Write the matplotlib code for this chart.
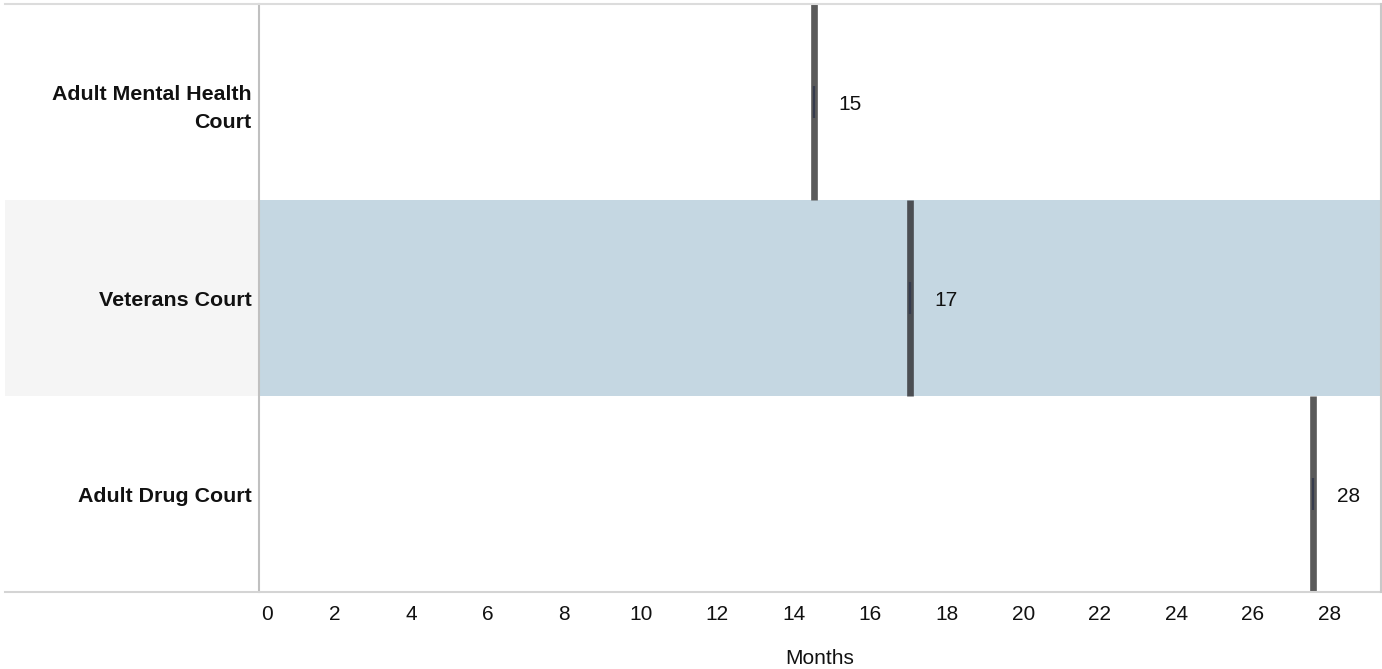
import matplotlib.pyplot as plt
from matplotlib.lines import Line2D
from matplotlib.patches import Rectangle
import matplotlib.transforms as mtrans

courts = ['Adult Mental Health\nCourt', 'Veterans Court', 'Adult Drug Court']
months = [14.54, 17.05, 27.59]
month_labels = ['15', '17', '28']
xticks = list(range(0, 29, 2))
highlight = 1  # Veterans Court row

W, H = 1382, 669
fig = plt.figure(figsize=(W / 100, H / 100), dpi=100)
plt.rcParams['font.family'] = ['Arial', 'Liberation Sans', 'DejaVu Sans']

# plot area in pixels
x0, x1, ytop, ybot = 258.5, 1380, 4, 592
ax = fig.add_axes([x0 / W, 1 - ybot / H, (x1 - x0) / W, (ybot - ytop) / H])
ax.set_xlim(0, 29.33)
ax.set_ylim(3, 0)

# highlighted row
ax.axhspan(highlight, highlight + 1, color='#c5d7e2', lw=0, zorder=0)
row_h = (ybot - ytop) / 3
fig.patches.append(Rectangle((5 / W, 1 - (ytop + row_h * (highlight + 1)) / H),
                             (x0 - 5) / W, row_h / H, transform=fig.transFigure,
                             color='#f5f5f5', lw=0, zorder=-1))

for i, (v, lab) in enumerate(zip(months, month_labels)):
    col = '#4b4e53' if i == highlight else '#5a5a5a'
    ax.vlines(v, i, i + 1, color=col, lw=4.8, zorder=3)
    ax.vlines(v, i + 0.5 - 0.082, i + 0.5 + 0.082, color='#353b4c', lw=1.6, zorder=4)
    ax.annotate(lab, (v, i + 0.5), xytext=(24, -2), textcoords='offset pixels',
                ha='left', va='center', fontsize=15, color='#111111')

ax.set_yticks([0.5, 1.5, 2.5])
ax.set_yticklabels(courts, fontsize=15.4, fontweight='bold', color='#111111', linespacing=1.6)
ax.set_xticks(xticks)
ax.set_xticklabels([str(t) for t in xticks], fontsize=15, color='#111111')
ax.tick_params(axis='both', length=0)
ax.tick_params(axis='y', pad=5)
ax.tick_params(axis='x', pad=9)
first = ax.get_xticklabels()[0]
first.set_horizontalalignment('left')
first.set_transform(first.get_transform() + mtrans.ScaledTranslation(3 / 100, 0, fig.dpi_scale_trans))
ax.set_xlabel('Months', fontsize=15, color='#111111', labelpad=18)

for s in ['top', 'bottom', 'right']:
    ax.spines[s].set_visible(False)
ax.spines['left'].set_color('#c0c0c0')
ax.spines['left'].set_linewidth(1.5)
ax.spines['left'].set_zorder(5)

# frame lines in figure space
fig.add_artist(Line2D([5 / W, 1], [1 - 3.5 / H] * 2, color='#dcdcdc', lw=1.5))
fig.add_artist(Line2D([5 / W, x1 / W], [1 - ybot / H] * 2, color='#d4d4d4', lw=1.5))
fig.add_artist(Line2D([1380.5 / W] * 2, [1 - 3.5 / H, 1 - ybot / H], color='#c8c8c8', lw=1.5))

fig.savefig('out.png', dpi=100)
